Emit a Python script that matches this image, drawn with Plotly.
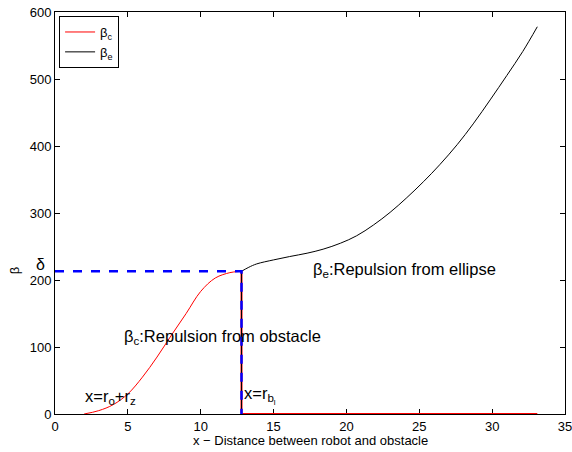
import plotly.graph_objects as go

# red: beta_c (repulsion from obstacle)
bc_x = [2.0, 3.0, 4.0, 5.0, 6.0, 7.0, 8.0, 9.0, 10.0, 11.0, 12.0, 12.5, 12.8, 12.8, 33.1]
bc_y = [0, 5, 14, 30, 55, 85, 118, 150, 183, 203, 211, 212.5, 213, 0, 0]

# black: beta_e (repulsion from ellipse)
be_x = [12.8, 12.8, 13.3, 13.84, 15.0, 16.1, 17.3, 18.4, 19.6, 20.7, 21.85, 23.0, 24.1,
        25.3, 26.4, 27.6, 28.7, 29.9, 31.0, 32.1, 33.1]
be_y = [0, 213, 219, 224, 230, 235, 240, 246, 255, 266, 282, 301, 322,
        347, 372, 402, 433, 470, 505, 541, 578]

# blue dashed guide
guide_x = [0, 12.8, 12.8]
guide_y = [213, 213, 0]

x_ticks = [0, 5, 10, 15, 20, 25, 30, 35]
y_ticks = [0, 100, 200, 300, 400, 500, 600]

FONT = "Liberation Sans, Arial, Helvetica, sans-serif"

fig = go.Figure()
fig.add_trace(go.Scatter(x=bc_x[:13], y=bc_y[:13], mode="lines", line=dict(color="red", width=1, shape="spline"),
                         name="β<sub>c</sub>", legendgroup="c"))
fig.add_trace(go.Scatter(x=bc_x[12:], y=bc_y[12:], mode="lines", line=dict(color="red", width=2),
                         showlegend=False, legendgroup="c"))
fig.add_trace(go.Scatter(x=be_x[:2], y=be_y[:2], mode="lines", line=dict(color="black", width=1),
                         showlegend=False, legendgroup="e"))
fig.add_trace(go.Scatter(x=be_x[1:], y=be_y[1:], mode="lines", line=dict(color="black", width=1, shape="spline", smoothing=1),
                         name="β<sub>e</sub>", legendgroup="e"))
fig.add_trace(go.Scatter(x=guide_x, y=guide_y, mode="lines", line=dict(color="blue", width=2.5, dash="dash"),
                         showlegend=False))

anns = [
    dict(x=1.9, y=8, text="x=r<sub>o</sub>+r<sub>z</sub>", xanchor="left", yanchor="bottom"),
    dict(x=12.85, y=8, text="x=r<sub>b<sub>l</sub></sub>", xanchor="left", yanchor="bottom"),
    dict(x=4.6, y=115, text="β<sub>c</sub>:Repulsion from obstacle", xanchor="left", yanchor="middle"),
    dict(x=17.6, y=215, text="β<sub>e</sub>:Repulsion from ellipse", xanchor="left", yanchor="middle"),
]
for a in anns:
    fig.add_annotation(**a, showarrow=False, font=dict(family=FONT, size=16.5, color="black"))
fig.add_annotation(x=0, xref="paper", xshift=-8, y=213, text="δ", showarrow=False, xanchor="right",
                   yanchor="bottom", yshift=-4, font=dict(family=FONT, size=16, color="black"))

# axis titles
fig.add_annotation(x=0.5, xref="paper", y=0, yref="paper", yshift=-26, text="x − Distance between robot and obstacle",
                   showarrow=False, xanchor="center", yanchor="middle", font=dict(family=FONT, size=13, color="black"))
fig.add_annotation(x=0, xref="paper", y=213 / 600, yref="paper", xshift=-41, text="β", textangle=-90,
                   showarrow=False, xanchor="center", yanchor="middle", font=dict(family=FONT, size=13, color="black"))

axis_common = dict(showgrid=False, zeroline=False, showline=True, linecolor="black", linewidth=1,
                   mirror="ticks", ticks="inside", ticklen=5, tickcolor="black", automargin=False,
                   tickfont=dict(family=FONT, size=13, color="black"), layer="below traces",
                   ticklabeloverflow="allow")
fig.update_xaxes(range=[0, 35], tickvals=x_ticks, **axis_common)
fig.update_yaxes(range=[0, 600], tickvals=y_ticks, **axis_common)

fig.update_layout(
    width=572, height=452,
    margin=dict(l=55, r=7, t=12, b=38),
    paper_bgcolor="white", plot_bgcolor="white",
    legend=dict(x=0.008, y=0.99, xanchor="left", yanchor="top", bordercolor="black", borderwidth=1,
                bgcolor="white", font=dict(family=FONT, size=13, color="black"),
                tracegroupgap=0, itemwidth=30),
    showlegend=True,
)
# remove the default 8px page margin so the figure fills the window exactly
fig.write_html("out.html", config={"displayModeBar": False},
               post_script="document.body.style.margin='0';document.body.style.overflow='hidden';")
